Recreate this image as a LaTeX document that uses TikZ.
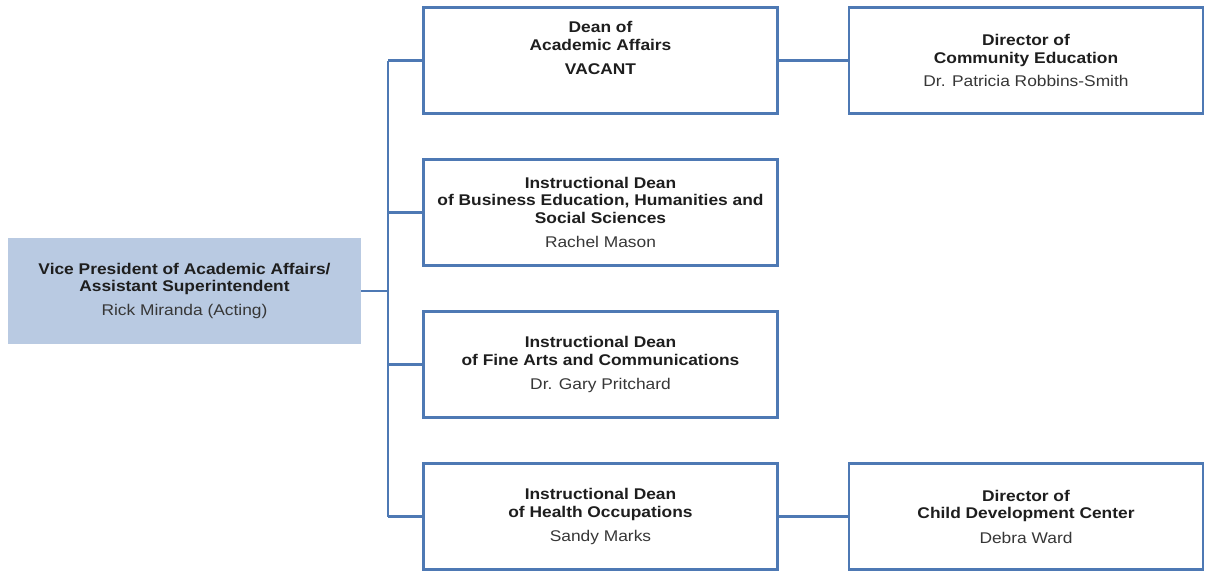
\documentclass[tikz,border=0pt]{standalone}
\usepackage{fontspec}
\setmainfont{Liberation Sans}[FakeStretch=1.12]
\definecolor{linkblue}{RGB}{78,121,180}
\definecolor{vpfill}{RGB}{185,202,226}
\definecolor{titlegray}{RGB}{30,30,30}
\definecolor{namegray}{RGB}{55,55,55}
\newcommand{\ttl}[1]{{\bfseries\color{titlegray}#1}}
\newcommand{\who}[1]{{\color{namegray}#1}}
\begin{document}
\begin{tikzpicture}[x=1pt,y=-1pt,
  orgbox/.style={draw=linkblue,line width=2.8pt,fill=white,
    minimum width=354pt,minimum height=106pt,inner sep=0pt,
    align=center,font=\fontsize{15.5}{17.5}\selectfont},
  vpbox/.style={fill=vpfill,draw=none,
    minimum width=353pt,minimum height=106pt,inner sep=0pt,
    align=center,font=\fontsize{15.5}{17.5}\selectfont},
  link/.style={draw=linkblue,line width=2.8pt}]
\useasboundingbox (0,0) rectangle (1207,571);

% head of the division
\node[vpbox] (vp) at (184.5,291)
  {\ttl{Vice President of Academic Affairs/}\\\ttl{Assistant Superintendent}\\[6.5pt]\who{Rick Miranda (Acting)}};

% deans
\node[orgbox] (dean) at (600.5,60.5)
  {\ttl{Dean of}\\\ttl{Academic Affairs}\\[7pt]\ttl{VACANT}\\[7.5pt]\mbox{}};
\node[orgbox] (busi) at (600.5,212.5)
  {\ttl{Instructional Dean}\\\ttl{of Business Education, Humanities and}\\\ttl{Social Sciences}\\[7pt]\who{Rachel Mason}};
\node[orgbox] (arts) at (600.5,364.5)
  {\ttl{Instructional Dean}\\\ttl{of Fine Arts and Communications}\\[6.5pt]\who{Dr. Gary Pritchard}};
\node[orgbox] (health) at (600.5,516.5)
  {\ttl{Instructional Dean}\\\ttl{of Health Occupations}\\[7pt]\who{Sandy Marks}};

% directors
\node[orgbox] (commed) at (1026,60.5)
  {\ttl{Director of}\\\ttl{Community Education}\\[6pt]\who{Dr. Patricia Robbins-Smith}};
\node[orgbox] (child) at (1026,516.5)
  {\ttl{Director of}\\\ttl{Child Development Center}\\[7pt]\who{Debra Ward}};

% trunk of the tree
\coordinate (ttop) at (388,60.5);
\coordinate (tbot) at (388,516.5);
\draw[link] (ttop) -- (tbot);
\draw[link] (vp.east) -- (vp.east -| ttop);
\foreach \b in {dean,busi,arts,health}
  \draw[link] (\b.west -| ttop) -- (\b.west);

% side branches
\draw[link] (dean.east) -- (commed.west);
\draw[link] (health.east) -- (child.west);
\end{tikzpicture}
\end{document}
